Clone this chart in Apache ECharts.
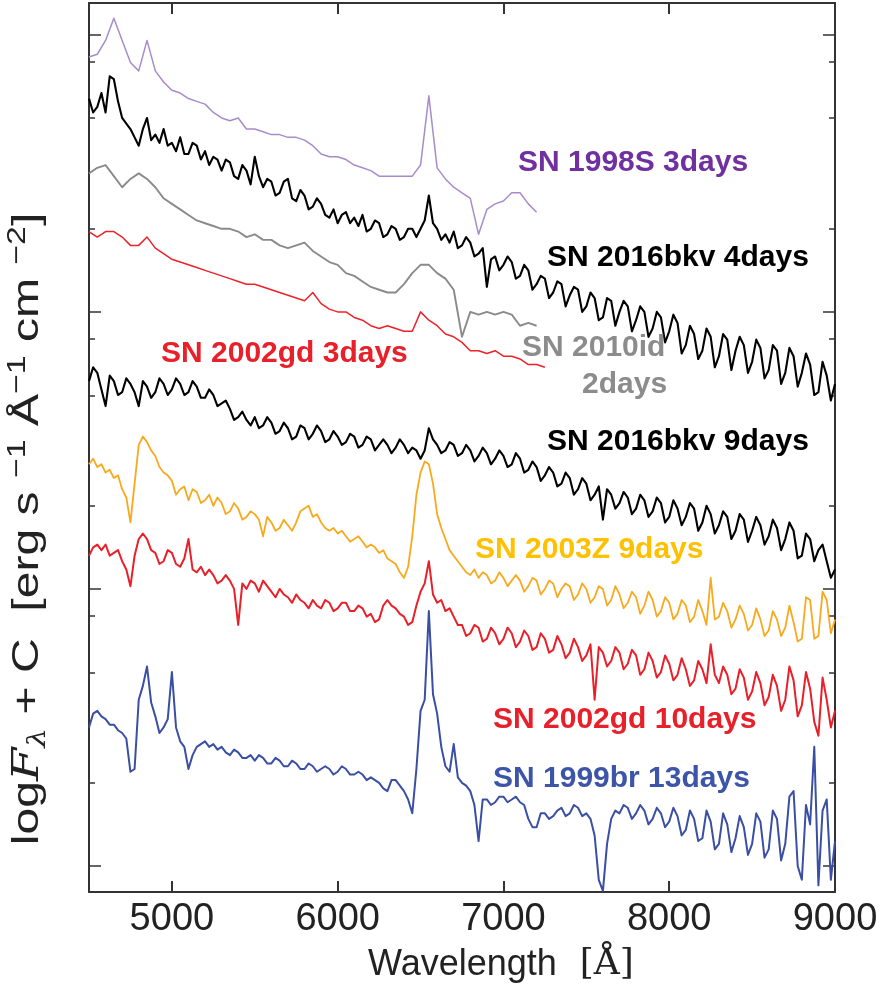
<!DOCTYPE html>
<html><head><meta charset="utf-8">
<script src="https://cdn.jsdelivr.net/npm/echarts@6/dist/echarts.min.js"></script>
<style>html,body{margin:0;padding:0;background:#fff}#c{width:888px;height:990px}</style>
</head><body><div id="c"></div>
<script>
// Wavelength grids (Å)
const wavelengthsCoarse = [4500,4550,4600,4650,4700,4750,4800,4850,4900,4950,
 5000,5050,5100,5150,5200,5250,5300,5350,5400,5450,
 5500,5550,5600,5650,5700,5750,5800,5850,5900,5950,
 6000,6050,6100,6150,6200,6250,6300,6350,6400,6450,
 6500,6550,6600,6650,6700,6750,6800,6850,6900,6950,
 7000,7050,7100,7150,7200,7250];
const wavelengthsFine = [4500,4525,4550,4575,4600,4625,4650,4675,4700,4725,4750,4775,4800,4825,4850,4875,4900,4925,4950,4975,
 5000,5025,5050,5075,5100,5125,5150,5175,5200,5225,5250,5275,5300,5325,5350,5375,5400,5425,5450,5475,
 5500,5525,5550,5575,5600,5625,5650,5675,5700,5725,5750,5775,5800,5825,5850,5875,5900,5925,5950,5975,
 6000,6025,6050,6075,6100,6125,6150,6175,6200,6225,6250,6275,6300,6325,6350,6375,6400,6425,6450,6475,
 6500,6525,6550,6575,6600,6625,6650,6675,6700,6725,6750,6775,6800,6825,6850,6875,6900,6925,6950,6975,
 7000,7025,7050,7075,7100,7125,7150,7175,7200,7225,7250,7275,7300,7325,7350,7375,7400,7425,7450,7475,
 7500,7525,7550,7575,7600,7625,7650,7675,7700,7725,7750,7775,7800,7825,7850,7875,7900,7925,7950,7975,
 8000,8025,8050,8075,8100,8125,8150,8175,8200,8225,8250,8275,8300,8325,8350,8375,8400,8425,8450,8475,
 8500,8525,8550,8575,8600,8625,8650,8675,8700,8725,8750,8775,8800,8825,8850,8875,8900,8925,8950,8975,9000];

// log F_lambda + C, in units of 0.01 dex (arbitrary vertical offsets)
const sn1998S_3d = [92,93,98,106,98,90,87,98,87,83,
 80,79,77,76,75,72,70,69,70,66,
 66,65,64,64,63,63,62,60,57,56,
 56,55,53,52,51,49,49,49,49,49,
 53,78,52,48,45,43,41,28,37,39,
 40,43,43,39,36];
const sn2010id_2d = [50,52,53,49,45,48,50,48,45,41,
 39,37,35,33,32,31,30,30,29,27,
 28,26,26,24,23,24,25,22,20,18,
 17,14,13,11,9,8,7,7,10,14,
 17,17,14,12,8,-9,0,-1,0,-1,
 0,-1,-5,-4,-5];
const sn2002gd_3d = [29,27,29,29,27,24,24,27,23,21,
 19,18,17,16,15,14,13,12,11,10,
 10,9,8,7,6,5,4,7,3,1,
 0,0,-2,-3,-5,-6,-5,-6,-7,-7,
 0,-3,-5,-8,-9,-11,-14,-14,-15,-14,
 -16,-16,-17,-19,-19,-20];
const sn2016bkv_4d = [77,72,74,79,72,85,84,76,70,68,66,63,60,66,70,62,64,61,66,60,
 61,58,63,57,57,61,60,55,58,53,56,55,51,55,54,49,48,53,51,46,
 56,49,45,48,47,42,43,47,48,41,40,44,42,37,38,41,39,35,34,37,
 32,35,36,32,34,31,35,29,30,33,32,27,28,31,30,26,27,30,30,27,
 30,33,42,32,30,26,28,25,29,23,24,27,25,20,21,23,9,19,20,15,
 17,20,18,12,13,17,15,8,10,13,12,5,7,11,10,2,6,9,8,0,
 2,7,5,-3,-2,5,4,-5,0,4,2,-7,-3,2,0,-9,-6,0,-2,-11,
 -7,-1,-4,-15,-12,-5,-8,-17,-14,-6,-9,-20,-16,-8,-10,-21,-14,-9,-12,-22,
 -18,-10,-13,-24,-21,-12,-14,-26,-22,-13,-16,-27,-22,-15,-19,-30,-29,-18,-23,-32,-26];
const sn2016bkv_9d = [-25,-20,-22,-28,-34,-23,-25,-30,-29,-24,-26,-29,-34,-25,-27,-31,-29,-24,-26,-30,
 -28,-24,-26,-30,-29,-25,-27,-31,-31,-28,-30,-34,-33,-32,-35,-39,-38,-36,-39,-41,
 -38,-42,-41,-38,-40,-44,-43,-40,-42,-46,-45,-41,-42,-46,-44,-41,-43,-47,-46,-43,
 -45,-48,-47,-44,-45,-49,-48,-45,-46,-50,-48,-46,-48,-51,-49,-46,-48,-51,-49,-50,
 -53,-50,-42,-46,-48,-51,-50,-47,-48,-52,-51,-48,-50,-54,-52,-49,-51,-55,-53,-50,
 -52,-56,-55,-51,-53,-58,-57,-54,-56,-61,-59,-56,-58,-63,-62,-58,-60,-66,-64,-60,
 -62,-68,-66,-63,-75,-64,-66,-71,-69,-65,-67,-73,-71,-66,-68,-74,-72,-67,-69,-76,
 -74,-68,-71,-77,-74,-69,-71,-79,-76,-70,-73,-80,-77,-72,-74,-82,-79,-73,-75,-83,
 -79,-74,-77,-84,-81,-75,-78,-86,-82,-76,-79,-89,-88,-80,-82,-90,-86,-84,-90,-96,-93];
const sn2003Z_9d = [-55,-53,-56,-55,-58,-57,-60,-59,-64,-67,-76,-62,-48,-45,-47,-50,-52,-56,-58,-59,
 -61,-66,-64,-63,-68,-64,-65,-69,-68,-66,-70,-67,-69,-73,-72,-69,-71,-75,-74,-72,
 -73,-75,-81,-74,-76,-79,-78,-75,-77,-79,-76,-72,-71,-70,-74,-73,-76,-78,-79,-78,
 -80,-79,-81,-83,-82,-81,-83,-85,-84,-85,-87,-86,-89,-90,-91,-94,-96,-92,-81,-66,
 -58,-54,-55,-62,-73,-78,-82,-86,-88,-90,-92,-94,-95,-93,-96,-94,-95,-98,-97,-94,
 -96,-99,-97,-95,-97,-101,-99,-96,-97,-102,-100,-97,-98,-103,-100,-98,-99,-104,-102,-98,
 -100,-105,-103,-99,-100,-106,-104,-99,-102,-107,-105,-101,-103,-109,-106,-101,-104,-110,-108,-103,
 -105,-111,-109,-104,-106,-112,-110,-104,-108,-113,-96,-111,-110,-105,-108,-114,-111,-106,-109,-115,
 -113,-107,-111,-117,-115,-108,-111,-117,-114,-106,-112,-119,-118,-103,-104,-118,-117,-101,-104,-116,-111];
const sn2002gd_10d = [-88,-85,-84,-86,-84,-88,-87,-86,-90,-93,-99,-88,-82,-80,-82,-86,-87,-91,-90,-86,
 -87,-91,-92,-89,-82,-93,-94,-92,-95,-93,-95,-98,-97,-95,-97,-100,-113,-98,-100,-97,
 -98,-101,-97,-99,-101,-103,-100,-102,-103,-105,-102,-104,-105,-107,-104,-106,-107,-104,-105,-108,
 -107,-105,-105,-108,-108,-106,-107,-110,-109,-112,-111,-106,-104,-106,-107,-109,-110,-113,-112,-106,
 -101,-98,-90,-102,-105,-104,-108,-107,-110,-113,-113,-117,-116,-113,-114,-119,-118,-114,-116,-120,
 -118,-114,-116,-121,-119,-115,-117,-122,-121,-116,-118,-123,-122,-117,-120,-125,-123,-118,-121,-126,
 -124,-120,-140,-121,-123,-128,-126,-121,-123,-129,-127,-122,-124,-131,-129,-123,-126,-132,-130,-124,
 -127,-133,-131,-125,-129,-135,-133,-126,-129,-134,-120,-131,-134,-128,-131,-138,-136,-129,-132,-140,
 -137,-130,-134,-142,-139,-131,-135,-144,-140,-128,-133,-146,-142,-130,-136,-148,-153,-132,-140,-150,-144];
const sn1999br_13d = [-150,-145,-144,-146,-147,-149,-149,-151,-152,-154,-166,-165,-140,-135,-128,-141,-146,-152,-150,-147,
 -130,-150,-155,-157,-165,-160,-157,-156,-155,-157,-156,-158,-157,-159,-160,-158,-159,-161,-161,-160,
 -162,-160,-161,-163,-163,-161,-162,-164,-164,-162,-163,-165,-165,-163,-164,-166,-165,-164,-165,-167,
 -166,-164,-165,-167,-167,-166,-167,-169,-168,-169,-170,-172,-173,-169,-169,-171,-173,-176,-181,-165,
 -144,-140,-108,-138,-145,-157,-164,-166,-156,-168,-170,-171,-173,-178,-191,-176,-176,-178,-177,-175,
 -175,-177,-176,-175,-177,-178,-183,-186,-186,-181,-181,-183,-182,-180,-179,-182,-181,-178,-179,-182,
 -181,-183,-189,-205,-209,-192,-183,-180,-181,-178,-179,-183,-181,-178,-180,-185,-183,-179,-181,-186,
 -184,-179,-182,-189,-187,-180,-183,-191,-190,-180,-184,-194,-192,-181,-185,-195,-190,-182,-186,-196,
 -192,-181,-184,-197,-194,-180,-183,-198,-192,-175,-173,-200,-205,-178,-185,-157,-207,-180,-176,-205,-191];

const xTickValues = [5000,6000,7000,8000,9000];
const yMajorTicks = [-200,-100,0,100];
const yMinorTicks = [-169.9,-130.1,-109.7,-69.9,-30.1,-9.7,30.1,69.9,90.3];

const spectra = [
  {name:'SN 1998S 3days', values:sn1998S_3d, grid:wavelengthsCoarse, color:'#a88bcb', width:1.5},
  {name:'SN 2016bkv 4days', values:sn2016bkv_4d, grid:wavelengthsFine, color:'#000000', width:2.1},
  {name:'SN 2010id 2days', values:sn2010id_2d, grid:wavelengthsCoarse, color:'#8a8a8a', width:1.9},
  {name:'SN 2002gd 3days', values:sn2002gd_3d, grid:wavelengthsCoarse, color:'#ee2229', width:1.5},
  {name:'SN 2016bkv 9days', values:sn2016bkv_9d, grid:wavelengthsFine, color:'#000000', width:2.1},
  {name:'SN 2003Z 9days', values:sn2003Z_9d, grid:wavelengthsFine, color:'#f8a91e', width:1.8},
  {name:'SN 2002gd 10days', values:sn2002gd_10d, grid:wavelengthsFine, color:'#e8202a', width:2.0},
  {name:'SN 1999br 13days', values:sn1999br_13d, grid:wavelengthsFine, color:'#3a4fa3', width:2.0}
];

const annotations = [
  {text:'SN 1998S 3days', color:'#7030a0', x:518, y:163},
  {text:'SN 2016bkv 4days', color:'#000000', x:547, y:258},
  {text:'SN 2010id', color:'#8c8c8c', x:522, y:348},
  {text:'2days', color:'#8c8c8c', x:582, y:385},
  {text:'SN 2002gd 3days', color:'#e8202a', x:161, y:354},
  {text:'SN 2016bkv 9days', color:'#000000', x:547, y:442},
  {text:'SN 2003Z 9days', color:'#ffc000', x:475, y:550},
  {text:'SN 2002gd 10days', color:'#e8202a', x:493, y:720},
  {text:'SN 1999br 13days', color:'#3d55a8', x:493, y:779}
];

const FONT = 'Liberation Sans, Arial, Helvetica, sans-serif';
const axisColor = '#333';
const yMin = -209.4, yMax = 111.5;

function xAxisDef(pos){
  return {type:'value', min:4500, max:9000, position:pos,
    axisLine:{show:true, onZero:false, lineStyle:{color:axisColor, width:2}},
    axisTick:{show:true, inside:true, length:11, customValues:xTickValues, lineStyle:{color:axisColor, width:2}},
    axisLabel:{show:pos==='bottom', customValues:xTickValues, margin:9, fontSize:38, color:'#222', fontFamily:FONT,
      formatter:v=>String(v)},
    splitLine:{show:false}};
}
function yAxisDef(pos, ticks, len, showLine){
  return {type:'value', min:yMin, max:yMax, position:pos,
    axisLine:{show:showLine, onZero:false, lineStyle:{color:axisColor, width:2}},
    axisTick:{show:true, inside:true, length:len, customValues:ticks, lineStyle:{color:axisColor, width:1.5}},
    axisLabel:{show:false}, splitLine:{show:false}};
}

const chart = echarts.init(document.getElementById('c'), null, {renderer:'canvas'});
const supStyle = {fontSize:26, fontFamily:FONT, fill:'#222', lineHeight:46, verticalAlign:'top'};
const option = {
  animation:false,
  backgroundColor:'#fff',
  grid:{left:89, right:53, top:3, bottom:98, containLabel:false},
  xAxis:[xAxisDef('bottom'), xAxisDef('top')],
  yAxis:[yAxisDef('left', yMajorTicks, 12, true), yAxisDef('left', yMinorTicks, 6, false),
         yAxisDef('right', yMajorTicks, 12, true), yAxisDef('right', yMinorTicks, 6, false)],
  series: spectra.map(s => ({
    type:'line', name:s.name, xAxisIndex:0, yAxisIndex:0,
    data: s.values.map((v,i)=>[s.grid[i], v]),
    showSymbol:false, symbol:'none', smooth:false,
    lineStyle:{color:s.color, width:s.width, join:'round'}, itemStyle:{color:s.color},
    clip:true, silent:true
  })),
  graphic: annotations.map(a => ({
    type:'text', x:a.x, y:a.y, z:100,
    style:{text:a.text, fill:a.color, font:'bold 30px '+FONT, align:'left', verticalAlign:'middle'}
  })).concat([
    {type:'text', x:368, y:965, z:100,
      style:{text:'{a|Wavelength}{b|  [Å]}', align:'left', verticalAlign:'middle',
        rich:{a:{fontSize:36, fontFamily:FONT, fill:'#222'}, b:{fontSize:36, fontFamily:'DejaVu Serif, Liberation Serif, serif', fill:'#222'}}}},
    {type:'text', x:28, y:529, rotation:Math.PI/2, scaleX:1.3, scaleY:1, z:100,
      style:{text:'{n|log}{i|F}{s|λ}{n| + C  [erg s }{p|−1}{n| Å}{p|−1}{n| cm }{p|−2}{n|]}', align:'center', verticalAlign:'middle',
        rich:{
          n:{fontSize:37, fontFamily:FONT, fill:'#222', lineHeight:46, verticalAlign:'middle'},
          i:{fontSize:37, fontFamily:'DejaVu Serif, serif', fontStyle:'italic', fill:'#222', lineHeight:46, verticalAlign:'middle'},
          s:{fontSize:24, fontFamily:'DejaVu Serif, serif', fontStyle:'italic', fill:'#222', lineHeight:46, verticalAlign:'bottom'},
          p:supStyle
        }}}
  ])
};
chart.setOption(option);
</script></body></html>
